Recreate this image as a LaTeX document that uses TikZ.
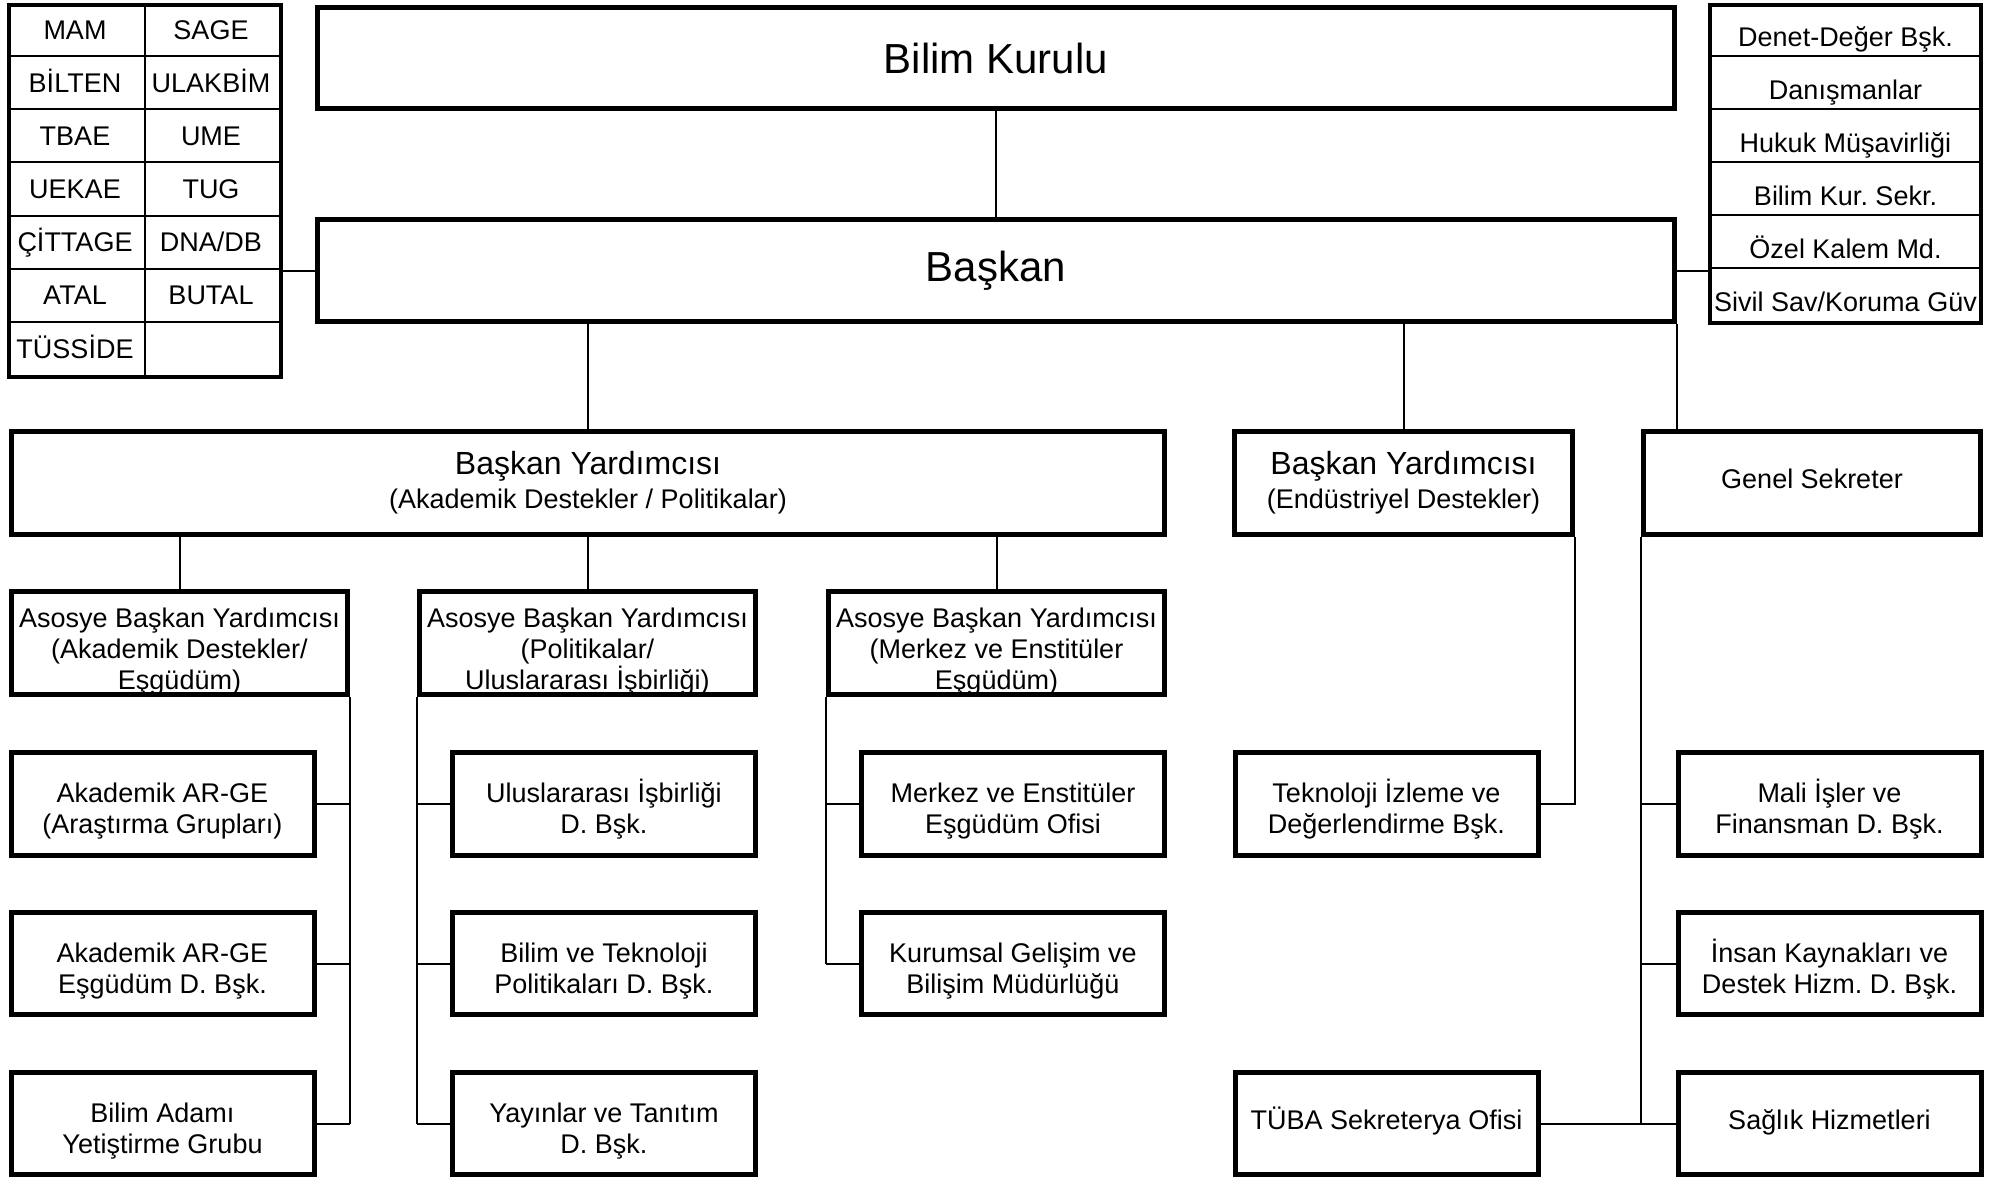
\documentclass[tikz,border=0pt]{standalone}
\usepackage{fontspec}
\setmainfont{Liberation Sans}
\usepackage{tikz}
\frenchspacing

\tikzset{
  unit/.style={draw, line width=5pt, align=center, inner sep=0pt, font=\fontsize{27}{30.6}\selectfont},
  sub/.style={unit, minimum width=303pt, minimum height=102.5pt},
  one/.style={text height=19.3pt, text depth=8pt},
  two/.style={text height=59pt, text depth=0pt},
  three/.style={text height=92pt, text depth=0pt},
  link/.style={line width=2pt},
  cell/.style={font=\fontsize{27}{30}\selectfont, inner sep=0pt, text height=19.3pt, text depth=0pt},
}
\newcommand\headsize{\fontsize{32}{34}\selectfont}

\begin{document}
\begin{tikzpicture}[x=1pt,y=-1pt]
\useasboundingbox (0,0) rectangle (1998,1180);

\node[unit, minimum width=1357pt, minimum height=101pt, font=\fontsize{42}{46}\selectfont] (kurul) at (996,58) {Bilim Kurulu};
\node[unit, minimum width=1357pt, minimum height=102pt, font=\fontsize{42}{46}\selectfont] (baskan) at (996,270.5) {Başkan};

% merkezler tablosu
\node[draw, line width=4pt, minimum width=272pt, minimum height=372pt, inner sep=0pt] (lab) at (145,191) {};
\draw[link] (lab.north) -- (lab.south);
\foreach \i in {1,...,6}
  \draw[link] ([yshift=-\i*53.14pt]lab.north west) -- ([yshift=-\i*53.14pt]lab.north east);
\foreach \a/\b [count=\i] in {MAM/SAGE, BİLTEN/ULAKBİM, TBAE/UME, UEKAE/TUG, ÇİTTAGE/DNA\slash DB, ATAL/BUTAL, TÜSSİDE/{}} {
  \node[cell] at ([xshift=68pt, yshift={-(\i-0.5)*53.14pt}]lab.north west) {\a};
  \node[cell] at ([xshift=204pt, yshift={-(\i-0.5)*53.14pt}]lab.north west) {\b};
}

% baskanlik birimleri
\node[draw, line width=4pt, minimum width=271pt, minimum height=318pt, inner sep=0pt] (kom) at (1845.5,164) {};
\foreach \i in {1,...,5}
  \draw[link] ([yshift=-\i*53pt]kom.north west) -- ([yshift=-\i*53pt]kom.north east);
\foreach \t [count=\i] in {Denet-Değer Bşk., Danışmanlar, Hukuk Müşavirliği, Bilim Kur. Sekr., Özel Kalem Md., Sivil Sav/Koruma Güv}
  \node[cell] at ([yshift={-(\i-0.5)*53pt-7pt}]kom.north) {\t};

\draw[link] (kurul) -- (baskan);
\draw[link] (baskan.west) -- (lab.east |- baskan.west);
\draw[link] (baskan.east) -- (kom.west |- baskan.east);

% yardimcilar
\node[unit, minimum width=1153pt, minimum height=102.5pt] (vp1) at (588,482.75) {{\headsize Başkan Yardımcısı}\\[3pt](Akademik Destekler / Politikalar)};
\node[unit, minimum width=338pt, minimum height=102.5pt] (vp2) at (1403.5,482.75) {{\headsize Başkan Yardımcısı}\\[3pt](Endüstriyel Destekler)};
\node[unit, one, minimum width=337pt, minimum height=102.5pt] (gs) at (1812,482.75) {Genel Sekreter};

\draw[link] (vp1.north) -- (vp1.north |- baskan.south);
\draw[link] (vp2.north) -- (vp2.north |- baskan.south);
\draw[link] (baskan.south east) -- (baskan.south east |- gs.north);

\node[unit, three, minimum width=336pt, minimum height=103pt] (as1) at (179.5,643) {Asosye Başkan Yardımcısı\\(Akademik Destekler/\\Eşgüdüm)};
\node[unit, three, minimum width=336pt, minimum height=103pt] (as2) at (587.5,643) {Asosye Başkan Yardımcısı\\(Politikalar/\\Uluslararası İşbirliği)};
\node[unit, three, minimum width=336pt, minimum height=103pt] (as3) at (996.5,643) {Asosye Başkan Yardımcısı\\(Merkez ve Enstitüler\\Eşgüdüm)};

\foreach \n in {as1,as2,as3}
  \draw[link] (\n.north) -- (\n.north |- vp1.south);

% alt birimler
\node[sub, two] (a1) at (162.5,804) {Akademik AR-GE\\(Araştırma Grupları)};
\node[sub, two] (a2) at (162.5,963.5) {Akademik AR-GE\\Eşgüdüm D. Bşk.};
\node[sub, two] (a3) at (162.5,1123.5) {Bilim Adamı\\Yetiştirme Grubu};
\node[sub, two] (b1) at (604,804) {Uluslararası İşbirliği\\D. Bşk.};
\node[sub, two] (b2) at (604,963.5) {Bilim ve Teknoloji\\Politikaları D. Bşk.};
\node[sub, two] (b3) at (604,1123.5) {Yayınlar ve Tanıtım\\D. Bşk.};
\node[sub, two] (c1) at (1013,804) {Merkez ve Enstitüler\\Eşgüdüm Ofisi};
\node[sub, two] (c2) at (1013,963.5) {Kurumsal Gelişim ve\\Bilişim Müdürlüğü};
\node[sub, two] (d1) at (1386.5,804) {Teknoloji İzleme ve\\Değerlendirme Bşk.};
\node[sub, one] (d3) at (1386.5,1123.5) {TÜBA Sekreterya Ofisi};
\node[sub, two] (e1) at (1829.5,804) {Mali İşler ve\\Finansman D. Bşk.};
\node[sub, two] (e2) at (1829.5,963.5) {İnsan Kaynakları ve\\Destek Hizm. D. Bşk.};
\node[sub, one] (e3) at (1829.5,1123.5) {Sağlık Hizmetleri};

\draw[link] (as1.south east) -- (as1.south east |- a3.east);
\foreach \n in {a1,a2,a3}
  \draw[link] (\n.east) -- (\n.east -| as1.south east);
\draw[link] (as2.south west) -- (as2.south west |- b3.west);
\foreach \n in {b1,b2,b3}
  \draw[link] (\n.west) -- (\n.west -| as2.south west);
\draw[link] (as3.south west) -- (as3.south west |- c2.west);
\foreach \n in {c1,c2}
  \draw[link] (\n.west) -- (\n.west -| as3.south west);
\draw[link] (vp2.south east) -- (vp2.south east |- d1.east) -- (d1.east);
\draw[link] (gs.south west) -- (gs.south west |- e3.west);
\foreach \n in {e1,e2,e3}
  \draw[link] (\n.west) -- (\n.west -| gs.south west);
\draw[link] (d3.east) -- (d3.east -| gs.south west);
\end{tikzpicture}
\end{document}
